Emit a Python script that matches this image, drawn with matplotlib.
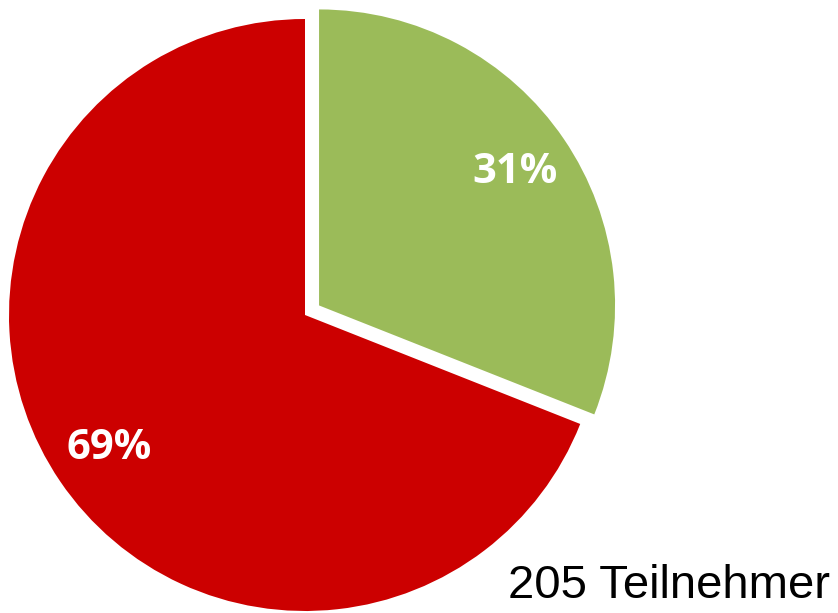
import matplotlib.pyplot as plt

labels = ["Ja", "Nein"]
shares = [31, 69]
colors = ["#9BBB59", "#CC0000"]
explode = [17, 0]  # offset in data units (pixels)
participants = 205

fig = plt.figure(figsize=(8.38, 6.13), dpi=100)
ax = fig.add_axes([0, 0, 1, 1])

wedges, texts, autotexts = ax.pie(
    shares, colors=colors, explode=explode, startangle=90, counterclock=False,
    center=(305, 298), radius=296, autopct="%.0f%%", pctdistance=0.8,
    wedgeprops=dict(linewidth=0), frame=True,
    textprops=dict(color="white", fontsize=30, fontweight="bold", family="Open Sans"),
)
ax.set_xlim(0, 838)
ax.set_ylim(0, 613)
ax.set_aspect("equal")
ax.axis("off")

fig.text(830 / 838, 15 / 613, f"{participants} Teilnehmer", ha="right", va="baseline",
         fontsize=34, family="Liberation Sans", color="black")

fig.savefig("out.png", dpi=100)
